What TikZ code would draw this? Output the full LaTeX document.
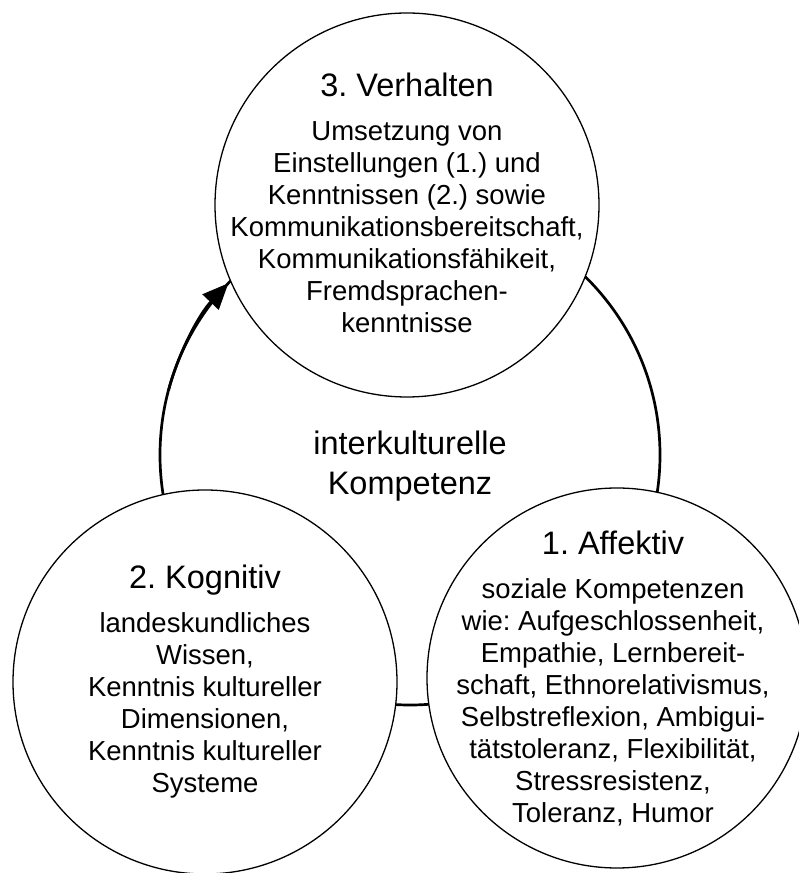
\documentclass[tikz,border=0pt]{standalone}
\usepackage{fontspec}
\setmainfont{Liberation Sans}
\usetikzlibrary{arrows.meta}
\frenchspacing

\tikzset{
	sphere/.style={circle,draw,line width=1.3pt,fill=white,inner sep=0pt},
	spheretext/.style={align=center,inner sep=0pt,font=\fontsize{27.5}{32}\selectfont},
	ringline/.style={line width=2.7pt},
}
\newcommand{\heading}[1]{{\fontsize{32.5}{32}\selectfont #1}\\[12pt]}

\begin{document}
\begin{tikzpicture}[x=1pt,y=1pt]
	\useasboundingbox (0,0) rectangle (799,873);
	
	% the cycle behind the three circles
	\coordinate (ring) at (410,418);
	\draw[ringline] (ring) circle[radius=250];
	
	\node[sphere,minimum size=384pt] (verhalten) at (407,668) {};
	\node[sphere,minimum size=384pt] (kognitiv) at (205,191) {};
	\node[sphere,minimum size=380pt] (affektiv) at (617,195) {};
	
	\node[spheretext] (verhalten-text) at ([yshift=2pt]verhalten) {\heading{3. Verhalten}
		Umsetzung von\\ Einstellungen (1.) und\\ Kenntnissen (2.) sowie\\
		Kommunikationsbereitschaft,\\ Kommunikationsfähikeit,\\ Fremdsprachen-\\ kenntnisse};
	\node[spheretext] (kognitiv-text) at (kognitiv) {\heading{2. Kognitiv}
		landeskundliches\\ Wissen,\\ Kenntnis kultureller\\ Dimensionen,\\
		Kenntnis kultureller\\ Systeme};
	\node[spheretext] (affektiv-text) at ([xshift=-4pt]affektiv) {\heading{1. Affektiv}
		soziale Kompetenzen\\ wie: Aufgeschlossenheit,\\ Empathie, Lernbereit-\\
		schaft, Ethnorelativismus,\\ Selbstreflexion, Ambigui-\\ tätstoleranz, Flexibilität,\\
		Stressresistenz,\\ Toleranz, Humor};
	
	\node[align=center,font=\fontsize{32.5}{40}\selectfont] (kompetenz) at (410,407)
		{interkulturelle\\ Kompetenz};
	
	% arrow head into the top circle
	\draw[ringline,-{Triangle[length=26pt,width=22pt]}] (ring) ++(165:250)
		arc[start angle=165,end angle=136.6,radius=250];
\end{tikzpicture}
\end{document}
